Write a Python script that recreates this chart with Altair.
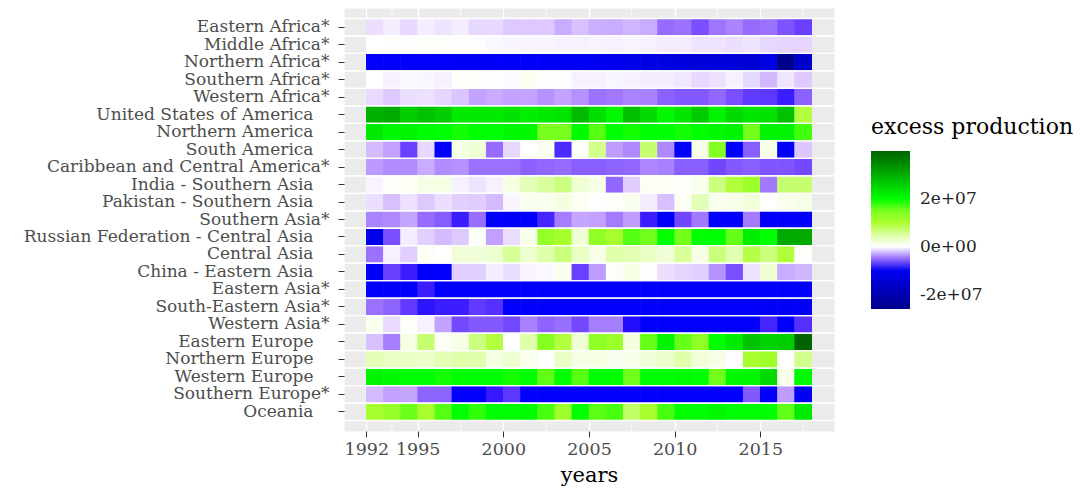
import altair as alt
import pandas as pd

regions = [
    "Eastern Africa*", "Middle Africa*", "Northern Africa*", "Southern Africa*", "Western Africa*",
    "United States of America", "Northern America", "South America",
    "Caribbean and Central America*", "India - Southern Asia", "Pakistan - Southern Asia",
    "Southern Asia*", "Russian Federation - Central Asia", "Central Asia",
    "China - Eastern Asia", "Eastern Asia*", "South-Eastern Asia*", "Western Asia*",
    "Eastern Europe", "Northern Europe", "Western Europe", "Southern Europe*", "Oceania",
]
years = list(range(1992, 2018))

# excess production, in units of 1e7
eastern_africa = [-0.11,-0.06,-0.13,-0.06,-0.09,-0.06,-0.13,-0.13,-0.18,-0.18,-0.18,-0.28,-0.21,-0.27,-0.28,-0.25,-0.28,-0.50,-0.48,-0.60,-0.47,-0.42,-0.50,-0.48,-0.59,-0.65]
middle_africa = [0.0,0.01,0.01,0.03,0.02,-0.005,-0.01,-0.02,-0.03,-0.035,-0.04,-0.045,-0.05,-0.04,-0.05,-0.035,-0.05,-0.06,-0.06,-0.09,-0.09,-0.11,-0.09,-0.13,-0.14,-0.14]
northern_africa = [-0.86,-0.86,-0.86,-0.86,-0.86,-0.9,-0.9,-0.9,-0.88,-0.88,-0.88,-0.92,-0.9,-0.95,-1.05,-1.1,-1.2,-1.25,-1.3,-1.37,-1.3,-1.37,-1.43,-1.2,-2.6,-1.55]
southern_africa = [0.0,-0.05,-0.02,-0.03,-0.05,0.03,0.01,-0.01,-0.015,0.08,-0.005,-0.01,-0.05,-0.05,-0.03,-0.05,-0.06,-0.06,-0.08,-0.13,-0.10,-0.045,-0.13,-0.24,-0.085,-0.18]
western_africa = [-0.12,-0.18,-0.11,-0.10,-0.14,-0.19,-0.31,-0.28,-0.31,-0.31,-0.37,-0.31,-0.37,-0.48,-0.46,-0.42,-0.43,-0.54,-0.57,-0.57,-0.52,-0.60,-0.67,-0.68,-0.75,-0.54]
usa = [2.95,3.05,2.6,2.75,2.6,2.25,2.25,2.25,2.35,2.2,2.25,2.32,2.85,2.4,2.1,2.8,2.45,2.07,2.3,2.65,2.15,2.45,2.3,2.35,2.75,0.95]
northern_america = [2.25,2.08,2.15,2.03,2.0,1.98,2.0,2.0,2.07,2.07,1.5,1.5,2.05,1.74,2.0,1.98,2.0,2.0,1.98,2.0,2.07,2.15,1.55,2.15,2.15,1.85]
south_america = [-0.23,-0.32,-0.65,-0.13,-0.85,0.15,0.24,-0.5,-0.13,0.0,0.1,-0.72,0.04,0.62,-0.33,-0.4,0.76,-0.4,-0.86,0.14,1.4,-0.86,-0.55,0.14,-0.86,-0.19]
caribbean_central_america = [-0.34,-0.39,-0.39,-0.28,-0.39,-0.37,-0.48,-0.48,-0.48,-0.54,-0.52,-0.5,-0.55,-0.55,-0.53,-0.52,-0.41,-0.43,-0.55,-0.55,-0.63,-0.57,-0.55,-0.58,-0.58,-0.62]
india = [-0.04,0.03,0.06,0.14,0.16,-0.05,-0.09,-0.05,0.16,0.4,0.54,0.68,0.24,0.14,-0.52,-0.17,0.06,0.06,0.03,0.1,0.68,0.97,1.18,-0.46,0.76,0.76]
pakistan = [-0.11,-0.21,-0.1,-0.18,-0.11,-0.16,-0.17,-0.23,-0.03,0.1,0.1,0.18,0.06,0.0,0.02,0.1,-0.06,-0.21,0.06,0.4,0.1,0.12,0.21,0.0,0.1,0.14]
southern_asia = [-0.42,-0.4,-0.3,-0.5,-0.56,-0.75,-0.49,-0.86,-0.88,-0.86,-0.73,-0.44,-0.3,-0.32,-0.45,-0.33,-0.75,-0.88,-0.63,-0.46,-0.86,-0.86,-0.45,-0.86,-0.86,-0.86]
russia = [-1.15,-0.6,-0.06,-0.16,-0.23,-0.18,0.04,-0.32,-0.11,0.12,1.25,1.06,0.24,1.3,1.08,1.75,1.55,2.0,1.55,2.0,2.0,1.65,2.2,2.0,3.05,3.05]
central_asia = [-0.48,-0.05,-0.16,0.06,0.0,0.21,0.21,0.27,0.57,0.27,0.46,0.7,0.33,0.12,0.46,0.42,0.33,0.21,0.54,0.14,0.7,0.42,0.92,0.7,0.97,0.02]
china = [-0.92,-0.65,-0.75,-0.9,-0.86,-0.16,-0.16,-0.06,-0.11,-0.035,-0.02,0.1,-0.65,-0.33,0.04,0.14,-0.01,-0.11,-0.14,-0.16,-0.37,-0.6,-0.09,0.24,-0.28,-0.25]
eastern_asia = [-0.86,-0.86,-0.86,-0.75,-0.86,-0.86,-0.86,-0.86,-0.86,-0.86,-0.86,-0.86,-0.86,-0.86,-0.86,-0.86,-0.86,-0.86,-0.86,-0.86,-0.86,-0.86,-0.86,-0.86,-0.86,-0.86]
south_eastern_asia = [-0.48,-0.53,-0.67,-0.77,-0.75,-0.75,-0.67,-0.7,-0.86,-0.86,-0.86,-0.86,-0.86,-0.86,-0.86,-0.86,-0.86,-0.86,-0.86,-0.86,-0.86,-0.86,-0.86,-0.92,-0.92,-0.95]
western_asia = [0.1,-0.12,0.03,-0.05,-0.31,-0.62,-0.57,-0.57,-0.62,-0.43,-0.53,-0.49,-0.62,-0.44,-0.44,-0.78,-0.86,-0.86,-0.86,-0.86,-0.86,-0.86,-0.86,-0.73,-0.88,-0.7]
eastern_europe = [-0.21,-0.44,0.16,0.76,0.06,0.14,0.68,0.95,0.0,0.46,1.4,0.95,0.24,1.3,1.18,0.18,1.65,2.15,1.65,1.3,2.0,2.25,2.75,2.55,2.6,4.0]
northern_europe = [0.4,0.33,0.33,0.29,0.4,0.46,0.45,0.16,0.27,0.1,0.0,0.33,0.14,0.16,0.1,0.12,0.21,0.29,0.46,0.21,0.14,-0.01,1.06,1.15,0.0,0.62]
western_europe = [2.15,2.07,2.0,2.0,1.98,2.0,2.0,2.0,1.98,2.0,1.68,2.0,1.74,2.0,2.0,1.58,2.0,2.0,2.03,2.0,1.55,2.07,2.1,2.45,0.12,2.07]
southern_europe = [-0.23,-0.32,-0.3,-0.53,-0.53,-0.86,-0.86,-0.76,-0.68,-0.86,-0.86,-0.86,-0.86,-0.86,-0.86,-0.86,-0.86,-0.86,-0.86,-0.86,-0.86,-0.86,-0.57,-0.86,-0.33,-0.98]
oceania = [1.06,1.25,1.6,1.06,1.74,2.0,1.92,2.0,2.0,2.03,1.82,1.15,2.0,1.72,1.82,0.8,1.06,1.82,2.0,2.0,2.1,2.0,2.0,2.0,1.68,2.25]

rows = [eastern_africa, middle_africa, northern_africa, southern_africa, western_africa, usa,
        northern_america, south_america, caribbean_central_america, india, pakistan, southern_asia,
        russia, central_asia, china, eastern_asia, south_eastern_asia, western_asia, eastern_europe,
        northern_europe, western_europe, southern_europe, oceania]

x_breaks = [1992, 1995, 2000, 2005, 2010, 2015]
x_minor = [1993.5, 1997.5, 2002.5, 2007.5, 2012.5, 2017.5]

color_stops = [-2.6e7, -0.8e7, 0, 1.0e7, 2.0e7, 4.0e7]
color_range = ["#00008B", "#0000FF", "#FFFFFF", "#ADFF2F", "#00FF00", "#006400"]

records = []
for reg, vals in zip(regions, rows):
    for y, v in zip(years, vals):
        records.append({"region": reg, "year": y, "year_end": y + 1, "value": v * 1e7})
df = pd.DataFrame(records)
reg_df = pd.DataFrame({"region": regions})
minor_df = pd.DataFrame({"m": x_minor})

W, H = 490, 423
FONT = "DejaVu Serif"
xscale = alt.Scale(domain=[1990.7, 2019.3], nice=False, zero=False)
yscale = alt.Scale(domain=regions, paddingInner=0, paddingOuter=0.6)
cscale = alt.Scale(domain=color_stops, range=color_range, interpolate="lab")

y_axis = alt.Axis(grid=False, domain=False, tickColor="#333333", tickSize=6,
                  labelPadding={"condition": {"test": "indexof(datum.label, '*') >= 0", "value": 9}, "value": 25},
                  labelColor="#4D4D4D", labelFontSize=17, labelFont=FONT, labelLimit=500)

minor = alt.Chart(minor_df).mark_rule(color="white", strokeWidth=0.7).encode(
    x=alt.X("m:Q", scale=xscale),
    y=alt.value(0), y2=alt.value(H),
)

tiles = alt.Chart(df).mark_rect(strokeWidth=0, xOffset=-0.3, x2Offset=0.3).encode(
    x=alt.X("year:Q", scale=xscale, title="years",
            axis=alt.Axis(values=x_breaks, format="d", grid=True, gridColor="white", gridWidth=1.3,
                          domain=False, tickColor="#333333", tickSize=6, labelPadding=3,
                          labelColor="#4D4D4D", labelFontSize=17.5, labelFont=FONT,
                          titleFont=FONT, titleFontSize=21, titleFontWeight="normal",
                          titleColor="black", titlePadding=7)),
    x2="year_end:Q",
    y=alt.Y("region:N", scale=yscale, sort=regions, title=None, axis=y_axis),
    color=alt.Color("value:Q", scale=cscale,
                    legend=alt.Legend(title="excess production", orient="none", legendX=527, legendY=109,
                                      type="gradient",
                                      direction="vertical", gradientLength=158, gradientThickness=39,
                                      gradientStrokeWidth=0, values=[-2e7, 0, 2e7], titleLimit=400,
                                      labelExpr="datum.value == 0 ? '0e+00' : (datum.value < 0 ? '-' : '') + format(abs(datum.value)/1e7, 'd') + 'e+07'",
                                      titleFont=FONT, titleFontSize=22, titleFontWeight="normal",
                                      titleColor="black", titlePadding=12,
                                      labelFont=FONT, labelFontSize=17, labelColor="#222222",
                                      labelOffset=10)),
)

hlines_top = alt.Chart(reg_df).mark_rule(color="white", strokeWidth=1.3).encode(
    y=alt.Y("region:N", scale=yscale, sort=regions, bandPosition=0, title=None, axis=y_axis),
    x=alt.value(0), x2=alt.value(W),
)
hlines_bot = alt.Chart(reg_df).mark_rule(color="white", strokeWidth=1.3).encode(
    y=alt.Y("region:N", scale=yscale, sort=regions, bandPosition=1, title=None, axis=y_axis),
    x=alt.value(0), x2=alt.value(W),
)

chart = alt.layer(minor, tiles, hlines_top, hlines_bot).properties(
    width=W, height=H,
    autosize=alt.AutoSizeParams(type="none"),
    padding={"left": 336, "top": 0, "right": 247, "bottom": 55},
).configure_view(fill="#EBEBEB", stroke="transparent")

chart.save("out.html", embed_options={"renderer": "svg", "actions": False})
